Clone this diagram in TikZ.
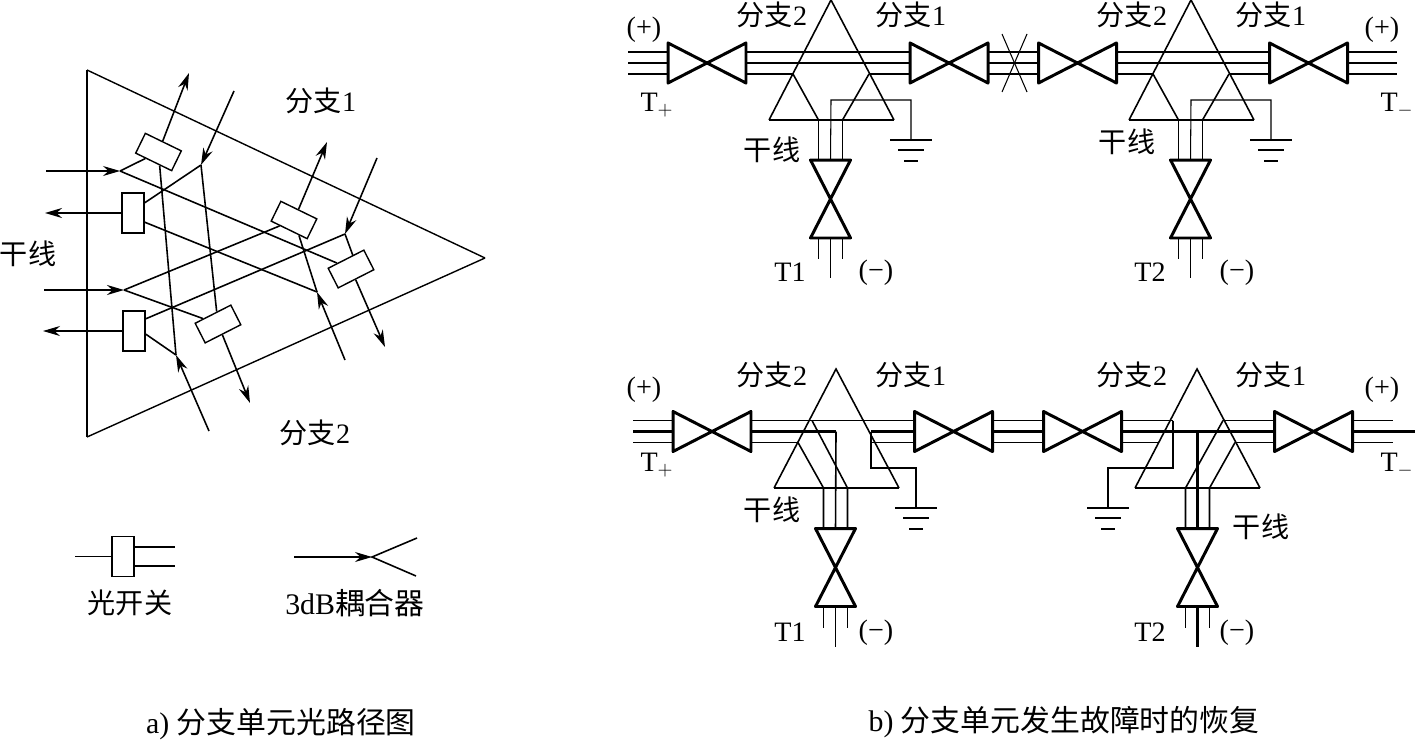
\documentclass[tikz,border=0pt]{standalone}
\usepackage{fontspec}
\setmainfont{Liberation Serif}
\newfontfamily\cjk{Noto Sans CJK SC}
\usepackage{tikz}
\usetikzlibrary{arrows.meta}
\tikzset{
    txt/.style={font=\fontsize{16}{18}\selectfont, inner sep=0pt},
    bigtxt/.style={font=\fontsize{17}{19}\selectfont, inner sep=0pt},
    wswitch/.style={draw, line width=0.8pt, minimum width=0.8cm, minimum height=0.44cm, inner sep=0pt},
    tswitch/.style={draw, line width=0.9pt, minimum width=0.44cm, minimum height=0.8cm, inner sep=0pt},
    hbox/.style={minimum width=1.56cm, minimum height=0.8cm, inner sep=0pt, outer sep=0pt},
    vbox/.style={minimum width=0.8cm, minimum height=1.56cm, inner sep=0pt, outer sep=0pt},
    valve line/.style={line width=1.7pt, line join=round},
    fine/.style={line width=0.6pt},
    heavy/.style={line width=1.2pt},
    fibre/.style={line width=0.9pt},
    inarrow/.style={-{Stealth[length=3.4mm,width=2mm]}}
}
% horizontal and vertical attenuator, with the three wire ends of each side
\newcommand{\hvalve}[3]{
    \node[hbox] (#1) at (#2,#3) {};
    \draw[valve line] (#1.south west) -- (#1.north east) -- (#1.south east) -- (#1.north west) -- cycle;
    \coordinate (#1wa) at (#2-39,#3-11);
    \coordinate (#1wb) at (#2-39,#3);
    \coordinate (#1wc) at (#2-39,#3+11);
    \coordinate (#1ea) at (#2+39,#3-11);
    \coordinate (#1eb) at (#2+39,#3);
    \coordinate (#1ec) at (#2+39,#3+11);
}
\newcommand{\vvalve}[3]{
    \node[vbox] (#1) at (#2,#3) {};
    \draw[valve line] (#1.north west) -- (#1.south east) -- (#1.south west) -- (#1.north east) -- cycle;
    \coordinate (#1na) at (#2-12,#3-39);
    \coordinate (#1nb) at (#2,#3-39);
    \coordinate (#1nc) at (#2+12,#3-39);
    \coordinate (#1sa) at (#2-12,#3+39);
    \coordinate (#1sb) at (#2,#3+39);
    \coordinate (#1sc) at (#2+12,#3+39);
    \coordinate (#1ta) at (#2-12,#3+60);
    \coordinate (#1tb) at (#2,#3+79);
    \coordinate (#1tc) at (#2+12,#3+60);
}
\newcommand{\earth}[5]{
    \coordinate (#1) at (#2,#3);
    \draw[#4] (#2-21,#3) -- (#2+21,#3);
    \draw[#4] (#2-13,#3+10) -- (#2+13,#3+10);
    \draw[#5] (#2-7,#3+21) -- (#2+7,#3+21);
}
\begin{document}
\begin{tikzpicture}[x=0.02cm, y=-0.02cm]
    \useasboundingbox (0,0) rectangle (1415,740);

    % a) light path
    \draw[line width=0.8pt] (485,258) -- (87,70);
    \draw[line width=0.8pt] (485,258) -- (87,437);
    \draw[heavy] (87,70) -- (87,437);

    \node[wswitch, rotate=-26] (s1) at (158.5,152) {};
    \node[wswitch, rotate=-26] (s2) at (294,220) {};
    \node[wswitch, rotate=27] (s3) at (351,269) {};
    \node[wswitch, rotate=27] (s4) at (218,324) {};
    \node[tswitch] (r1) at (133,213) {};
    \node[tswitch] (r2) at (134,331) {};

    \coordinate (j1) at (120,171);
    \coordinate (j2) at (201,165);
    \coordinate (j3) at (124,290);
    \coordinate (j4) at (317,292);
    \coordinate (j5) at (176,355);
    \coordinate (j6) at (345,234);

    \coordinate (f1) at (46,171);
    \coordinate (f2) at (44,290);
    \coordinate (f3) at (45,213);
    \coordinate (f4) at (43,331);
    \coordinate (f5) at (234,91);
    \coordinate (f6) at (377,158);
    \coordinate (f7) at (345,360);
    \coordinate (f8) at (209,431);
    \coordinate (f9) at (189,73);
    \coordinate (f10) at (327,142);
    \coordinate (f11) at (385,347);
    \coordinate (f12) at (250,403);

    \draw[fine, inarrow] (f1) -- (j1);
    \draw[heavy, inarrow] (f2) -- (j3);
    \draw[heavy, inarrow] (r1.west) -- (f3);
    \draw[fine, inarrow] (r2.west) -- (f4);
    \draw[fibre, inarrow] (f5) -- (j2);
    \draw[fibre, inarrow] (f6) -- (j6);
    \draw[fibre, inarrow] (f7) -- (j4);
    \draw[fibre, inarrow] (f8) -- (j5);
    \draw[fibre, inarrow] (s1) -- (f9);
    \draw[fibre, inarrow] (s2) -- (f10);
    \draw[fibre, inarrow] (s3) -- (f11);
    \draw[fibre, inarrow] (s4) -- (f12);

    \draw[fibre] (j1) -- (s1);
    \draw[fibre] (j1) -- (s3);
    \draw[fibre] (j2) -- (r1.41);
    \draw[fibre] (j2) -- (s4);
    \draw[fibre] (s1) -- (j5);
    \draw[fibre] (j5) -- (r2.-15);
    \draw[fibre] (r1.-38) -- (j4);
    \draw[fibre] (j4) -- (s2);
    \draw[fibre] (s2) -- (j3);
    \draw[fibre] (j3) -- (s4);
    \draw[fibre] (r2.46) -- (j6);
    \draw[fibre] (j6) -- (s3.56);

    \node[txt] (fz1) at (321,101) {{\cjk 分支}1};
    \node[txt] (fz2) at (315,433) {{\cjk 分支}2};
    \node[txt] (gx0) at (28,254) {\cjk 干线};

    % legend
    \node[tswitch] (r3) at (123,556.5) {};
    \coordinate (k1) at (75,556.5);
    \coordinate (k2) at (175,547);
    \coordinate (k3) at (175,566);
    \coordinate (k4) at (134,547);
    \coordinate (k5) at (134,566);
    \draw[fibre] (k1) -- (r3);
    \draw[heavy] (k4) -- (k2);
    \draw[fine] (k5) -- (k3);
    \coordinate (c1) at (294,557);
    \coordinate (c2) at (372,557);
    \coordinate (c3) at (417,538);
    \coordinate (c4) at (416,576);
    \draw[fine, inarrow] (c1) -- (c2);
    \draw[fibre] (c3) -- (c2) -- (c4);
    \node[txt] (kg) at (130,603) {\cjk 光开关};
    \node[bigtxt] (oh) at (355,603) {3dB{\cjk 耦合器}};

    % b) upper row
    \hvalve{v1}{707}{63}
    \hvalve{v2}{949}{63}
    \hvalve{v3}{1077.5}{63}
    \hvalve{v4}{1308.5}{63}
    \vvalve{t1}{830.5}{199}
    \vvalve{t2}{1190.5}{199}
    \foreach \w/\y in {a/52,b/63,c/74} {
        \coordinate (ua\w) at (628,\y);
        \coordinate (ub\w) at (1397,\y);
    }
    \foreach \p/\q in {uaa/v1wa,v1ea/v2wa,v2ea/v3wa,v3ea/v4wa,v4ea/uba}
        \draw[heavy] (\p) -- (\q);
    \foreach \p/\q in {uab/v1wb,v1eb/v2wb,v2eb/v3wb,v3eb/v4wb,v4eb/ubb}
        \draw[fine] (\p) -- (\q);
    \coordinate (p1) at (793,74);
    \coordinate (p2) at (869,74);
    \coordinate (p3) at (1153,74);
    \coordinate (p4) at (1229,74);
    \foreach \p/\q in {uac/v1wc,v1ec/p1,p2/v2wc,v2ec/v3wc,v3ec/p3,p4/v4wc,v4ec/ubc}
        \draw[heavy] (\p) -- (\q);

    \coordinate (x1) at (1002,34);
    \coordinate (x2) at (1027,92);
    \coordinate (x3) at (1027,34);
    \coordinate (x4) at (1002,92);
    \draw[fine] (x1) -- (x2);
    \draw[fine] (x3) -- (x4);

    \foreach \n/\x in {1/831,2/1191} {
        \coordinate (ap\n) at (\x,0);
        \coordinate (bl\n) at (\x-62,120);
        \coordinate (br\n) at (\x+63,120);
        \coordinate (ba\n) at (\x-12.5,120);
        \coordinate (bb\n) at (\x,120);
        \coordinate (bc\n) at (\x+11.5,120);
        \coordinate (gu\n) at (\x,100);
        \coordinate (gv\n) at (\x+80,100);
        \draw[fibre] (bl\n) -- (ap\n) -- (br\n);
        \draw[fine] (bl\n) -- (br\n);
        \draw[fibre] (p\the\numexpr 2*\n-1\relax) -- (ba\n);
        \draw[fibre] (p\the\numexpr 2*\n\relax) -- (bc\n);
        \draw[fibre] (ba\n) -- (t\n na);
        \draw[fibre] (bc\n) -- (t\n nc);
        \draw[fine] (t\n sa) -- (t\n ta);
        \draw[fine] (t\n sb) -- (t\n tb);
        \draw[fine] (t\n sc) -- (t\n tc);
        \earth{eu\n}{\x+80}{140}{fine}{heavy}
        \draw[fine] (t\n nb) -- (gu\n) -- (gv\n) -- (eu\n);
    }

    \node[txt] (lb1) at (772,15) {{\cjk 分支}2};
    \node[txt] (lb2) at (911,15) {{\cjk 分支}1};
    \node[txt] (lb3) at (1132,15) {{\cjk 分支}2};
    \node[txt] (lb4) at (1271,15) {{\cjk 分支}1};
    \node[txt] (pl1) at (644,30) {(+)};
    \node[txt] (pl2) at (1382,30) {(+)};
    \node[txt] (tp1) at (657,105) {T$_+$};
    \node[txt] (tm1) at (1397,105) {T$_-$};
    \node[txt] (gx1) at (772,150) {\cjk 干线};
    \node[txt] (gx2) at (1127,142) {\cjk 干线};
    \node[txt] (tn1) at (790,272) {T1};
    \node[txt] (tn2) at (1150,272) {T2};
    \node[txt] (mi1) at (876,273) {(−)};
    \node[txt] (mi2) at (1237,273) {(−)};

    % b) lower row
    \hvalve{v5}{712}{431.5}
    \hvalve{v6}{953.5}{431.5}
    \hvalve{v7}{1082.5}{431.5}
    \hvalve{v8}{1313.5}{431.5}
    \vvalve{t3}{835.5}{567.5}
    \vvalve{t4}{1197.5}{567.5}
    \foreach \w/\y in {a/420.5,b/431.5,c/442.5} \coordinate (la\w) at (633,\y);
    \foreach \w/\y in {a/420.5,c/442.5} \coordinate (lb\w) at (1393,\y);
    \coordinate (lbb) at (1415,431.5);

    \coordinate (q1) at (812,420.5);
    \coordinate (q2) at (836,431.5);
    \coordinate (q3) at (798,442.5);
    \coordinate (q4) at (871,431.5);
    \coordinate (q5) at (870,442.5);
    \coordinate (q6) at (1173,420.5);
    \coordinate (q7) at (1223,420.5);
    \coordinate (q8) at (1159,442.5);
    \coordinate (q9) at (1235,442.5);
    \coordinate (q10) at (1197.5,431.5);

    \foreach \p/\q in {laa/v5wa,v5ea/v6wa,v6ea/v7wa,v7ea/q6,q7/v8wa,v8ea/lba,
                       lac/v5wc,v5ec/q3,q5/v6wc,v6ec/v7wc,v7ec/q8,q9/v8wc,v8ec/lbc}
        \draw[fine] (\p) -- (\q);
    \foreach \p/\q in {lab/v5wb,v5eb/q2,q4/v6wb,v6eb/v7wb,v7eb/v8wb,v8eb/lbb}
        \draw[heavy] (\p) -- (\q);

    \foreach \n/\x in {3/836,4/1197} {
        \coordinate (ap\n) at (\x,369);
        \coordinate (bl\n) at (\x-62,488);
        \coordinate (br\n) at (\x+63,488);
        \draw[fibre] (bl\n) -- (ap\n) -- (br\n);
        \draw[heavy] (bl\n) -- (br\n);
    }
    \coordinate (r31) at (823.5,488);
    \coordinate (r32) at (847.5,488);
    \coordinate (r41) at (1185.5,488);
    \coordinate (r42) at (1209.5,488);
    \draw[fibre] (q3) -- (r31) -- (t3na);
    \draw[fibre] (q1) -- (r32) -- (t3nc);
    \draw[fibre] (q2) -- (t3nb);
    \draw[fibre] (q7) -- (r41) -- (t4na);
    \draw[fibre] (q9) -- (r42) -- (t4nc);
    \draw[heavy] (q10) -- (t4nb);
    \foreach \n in {3,4} {
        \draw[fine] (t\n sa) -- (t\n ta);
        \draw[fine] (t\n sc) -- (t\n tc);
    }
    \draw[fibre] (t3sb) -- (t3tb);
    \draw[heavy] (t4sb) -- (t4tb);

    \earth{el1}{916}{508}{heavy}{fine}
    \earth{el2}{1108}{508}{heavy}{fine}
    \coordinate (g1) at (871,468);
    \coordinate (g2) at (916,468);
    \coordinate (g3) at (1173,468);
    \coordinate (g4) at (1108,468);
    \draw[fibre] (q4) -- (g1) -- (g2) -- (el1);
    \draw[fibre] (q6) -- (g3) -- (g4) -- (el2);

    \node[txt] (lb5) at (772,375) {{\cjk 分支}2};
    \node[txt] (lb6) at (911,375) {{\cjk 分支}1};
    \node[txt] (lb7) at (1132,375) {{\cjk 分支}2};
    \node[txt] (lb8) at (1271,375) {{\cjk 分支}1};
    \node[txt] (pl3) at (644,390) {(+)};
    \node[txt] (pl4) at (1382,390) {(+)};
    \node[txt] (tp2) at (657,465) {T$_+$};
    \node[txt] (tm2) at (1397,465) {T$_-$};
    \node[txt] (gx3) at (772,510) {\cjk 干线};
    \node[txt] (gx4) at (1261,527) {\cjk 干线};
    \node[txt] (tn3) at (790,632) {T1};
    \node[txt] (tn4) at (1150,632) {T2};
    \node[txt] (mi3) at (876,633) {(−)};
    \node[txt] (mi4) at (1237,633) {(−)};

    % captions
    \node[bigtxt] (cpa) at (281,724) {a) {\cjk 分支单元光路径图}};
    \node[bigtxt] (cpb) at (1064,722) {b) {\cjk 分支单元发生故障时的恢复}};
\end{tikzpicture}
\end{document}
